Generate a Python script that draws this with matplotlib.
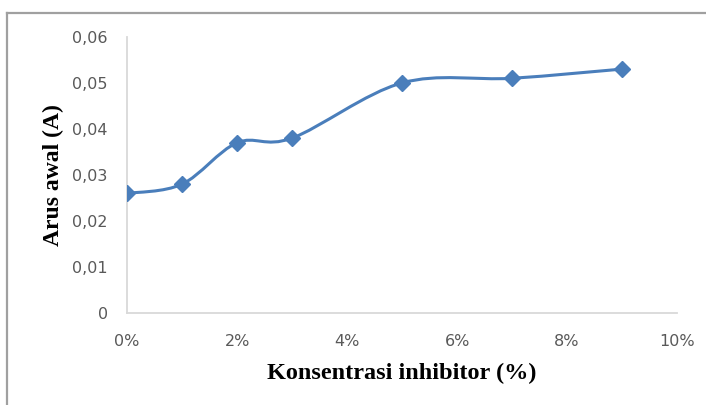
import matplotlib
matplotlib.use("Agg")
import matplotlib.pyplot as plt
import numpy as np
from matplotlib.path import Path
from matplotlib.patches import PathPatch
from matplotlib.lines import Line2D
from matplotlib.ticker import FuncFormatter

# data
konsentrasi = [0, 1, 2, 3, 5, 7, 9]  # percent
arus_awal = [0.026, 0.028, 0.037, 0.038, 0.050, 0.051, 0.053]
x_ticks = [0, 2, 4, 6, 8, 10]
y_ticks = [0, 0.01, 0.02, 0.03, 0.04, 0.05, 0.06]

BLUE = "#4a7ebb"
GRID_GREY = "#d9d9d9"
TICK_GREY = "#595959"


def smooth_path(x, y, t=1 / 6):
    """Excel-like smoothed line: cubic Bezier through the points."""
    x, y = np.asarray(x, float), np.asarray(y, float)
    n = len(x)
    verts = [(x[0], y[0])]
    codes = [Path.MOVETO]
    for i in range(n - 1):
        p0 = (x[max(i - 1, 0)], y[max(i - 1, 0)])
        p1 = (x[i], y[i])
        p2 = (x[i + 1], y[i + 1])
        p3 = (x[min(i + 2, n - 1)], y[min(i + 2, n - 1)])
        c1 = (p1[0] + (p2[0] - p0[0]) * t, p1[1] + (p2[1] - p0[1]) * t)
        c2 = (p2[0] - (p3[0] - p1[0]) * t, p2[1] - (p3[1] - p1[1]) * t)
        verts += [c1, c2, p2]
        codes += [Path.CURVE4] * 3
    return Path(verts, codes)


fig = plt.figure(figsize=(7.06, 4.05), dpi=100)
ax = fig.add_axes((0.18, 0.227, 0.779, 0.682))

ax.add_patch(PathPatch(smooth_path(konsentrasi, arus_awal), fill=False,
                       edgecolor=BLUE, lw=2.2, zorder=3))
ax.plot(konsentrasi, arus_awal, ls="none", marker="D", ms=8, color=BLUE, zorder=4)

ax.set_xlim(0, 10)
ax.set_ylim(0, 0.06)
ax.set_xticks(x_ticks)
ax.set_yticks(y_ticks)
ax.xaxis.set_major_formatter(FuncFormatter(lambda v, _: f"{v:.0f}%"))
ax.yaxis.set_major_formatter(
    FuncFormatter(lambda v, _: "0" if abs(v) < 1e-12 else f"{v:.2f}".replace(".", ",")))

for side in ("top", "right"):
    ax.spines[side].set_visible(False)
for side in ("left", "bottom"):
    ax.spines[side].set_color(GRID_GREY)
    ax.spines[side].set_linewidth(1.3)
ax.tick_params(length=0, labelsize=11.5, labelcolor=TICK_GREY)
ax.tick_params(axis="y", pad=14)
ax.tick_params(axis="x", pad=15)
for lbl in ax.get_xticklabels() + ax.get_yticklabels():
    lbl.set_family(["Liberation Sans Narrow", "DejaVu Sans"])

ax.set_xlabel("Konsentrasi inhibitor (%)", family="Liberation Serif",
              fontweight="bold", fontsize=17.5, labelpad=10)
ax.set_ylabel("Arus awal (A)", family="Liberation Serif",
              fontweight="bold", fontsize=17, labelpad=6)

# outer chart-area frame (only left and top edges visible in the crop)
x0, y0 = 7 / 706, 1 - 13 / 405
fig.add_artist(Line2D([x0, x0], [0, y0], transform=fig.transFigure,
                      color="#a0a0a0", lw=1.6))
fig.add_artist(Line2D([x0, 1], [y0, y0], transform=fig.transFigure,
                      color="#a0a0a0", lw=1.6))

fig.savefig("out.png", dpi=100)
